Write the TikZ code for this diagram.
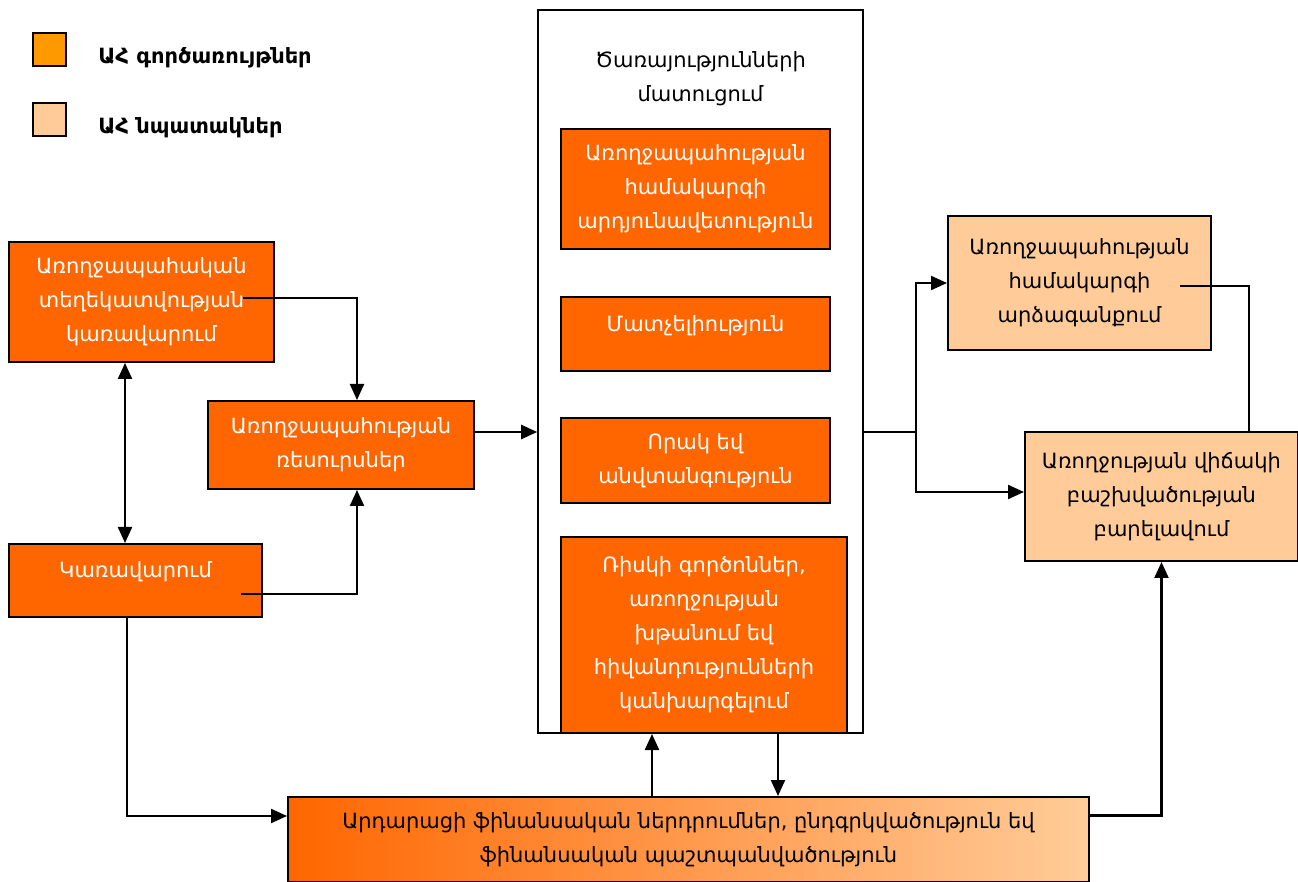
\documentclass[tikz,border=0pt]{standalone}
\usepackage{fontspec}
\setmainfont{DejaVu Sans}
\usetikzlibrary{arrows.meta}
\definecolor{funcorange}{HTML}{FF6600}
\definecolor{legorange}{HTML}{FF9900}
\definecolor{goalpeach}{HTML}{FFCC99}

\begin{document}
\begin{tikzpicture}[x=0.5pt, y=-0.5pt,
  every node/.style={font=\fontsize{10.5}{17}\selectfont, align=center, inner sep=0pt},
  func/.style={draw, line width=1pt, fill=funcorange, text=white},
  goal/.style={draw, line width=1pt, fill=goalpeach},
  legbox/.style={draw, line width=1pt, minimum size=16.5pt},
  arr/.style={line width=1.1pt, -{Triangle[length=8pt,width=7pt]}},
  dblarr/.style={line width=1.1pt, {Triangle[length=8pt,width=7pt]}-{Triangle[length=8pt,width=7pt]}},
  link/.style={line width=1.1pt}]
\useasboundingbox (0,0) rectangle (1298,882);
% legend
\node[legbox, fill=legorange] (legF) at (49.5,49.5) {};
\node[anchor=west, font=\fontsize{10.5}{17}\selectfont\bfseries] (legFt) at (98,58) {ԱՀ գործառույթներ};
\node[legbox, fill=goalpeach] (legG) at (49.5,120) {};
\node[anchor=west, font=\fontsize{10.5}{17}\selectfont\bfseries] (legGt) at (98,128) {ԱՀ նպատակներ};
% service delivery
\node[draw, line width=0.8pt, fill=white, minimum width=162.5pt, minimum height=361.5pt,
  label={[anchor=north, yshift=-21pt]north:{Ծառայությունների\\մատուցում}}] (serv) at (700.5,371.5) {};
\node[func, minimum width=134.5pt, minimum height=60pt] (A1) at (695.5,189) {Առողջապահության\\համակարգի\\արդյունավետություն};
\node[func, minimum width=134.5pt, minimum height=37pt,
  label={[anchor=north, yshift=-9.5pt, text=white]north:{Մատչելիություն}}] (A2) at (695.5,334) {};
\node[func, minimum width=134.5pt, minimum height=42.5pt] (A3) at (695.5,460.5) {Որակ եվ\\անվտանգություն};
\node[func, minimum width=143pt, minimum height=98pt] (A4) at (704,635) {Ռիսկի գործոններ,\\առողջության\\խթանում եվ\\հիվանդությունների\\կանխարգելում};
% left side
\node[func, minimum width=132.5pt, minimum height=60pt] (L1) at (141.5,302) {Առողջապահական\\տեղեկատվության\\կառավարում};
\node[func, minimum width=133pt, minimum height=44pt] (L2) at (341,445) {Առողջապահության\\ռեսուրսներ};
\node[func, minimum width=126.5pt, minimum height=36.5pt,
  label={[anchor=north, yshift=-9pt, text=white]north:{Կառավարում}}] (L3) at (135.5,580.5) {};
% bottom
\node[draw, line width=1pt, left color=funcorange, right color=goalpeach, minimum width=400.5pt, minimum height=42.5pt] (B) at (688.5,839.5) {Արդարացի ֆինանսական ներդրումներ, ընդգրկվածություն եվ\\ֆինանսական պաշտպանվածություն};
% right side
\node[goal, minimum width=131.5pt, minimum height=67pt] (R1) at (1079.5,283) {Առողջապահության\\համակարգի\\արձագանքում};
\node[goal, minimum width=136.5pt, minimum height=64.5pt] (R2) at (1161.5,496.5) {Առողջության վիճակի\\բաշխվածության\\բարելավում};
% connectors
\coordinate (L1out) at (243,298);
\coordinate (L3out) at (241,594);
\coordinate (split) at (916,432);
\coordinate (R1out) at (1180,286);
\draw[arr] (L1out) -| ([xshift=8pt]L2.north);
\draw[arr] (L3out) -| ([xshift=8pt]L2.south);
\draw[dblarr] ([xshift=-8.25pt]L1.south) -- ([xshift=-8.25pt]L1.south |- L3.north);
\draw[arr] ([yshift=6.5pt]L2.east) -- ([yshift=6.5pt]L2.east -| serv.west);
\draw[arr] ([xshift=-4.25pt]L3.south) |- ([yshift=11.75pt]B.west);
\draw[arr] ([xshift=-18.25pt]B.north) -- ([xshift=-18.25pt]B.north |- A4.south);
\draw[arr] ([xshift=37pt]A4.south) -- ([xshift=37pt]A4.south |- B.north);
\draw[link] (serv.east |- split) -- (split);
\draw[arr] (split) |- (R1.west);
\draw[arr] (split) |- ([yshift=2.25pt]R2.west);
\draw[link] (R1out) -| ([xshift=43.75pt]R2.north);
\draw[arr] ([yshift=12pt]B.east) -| (R2.south);
\end{tikzpicture}
\end{document}
